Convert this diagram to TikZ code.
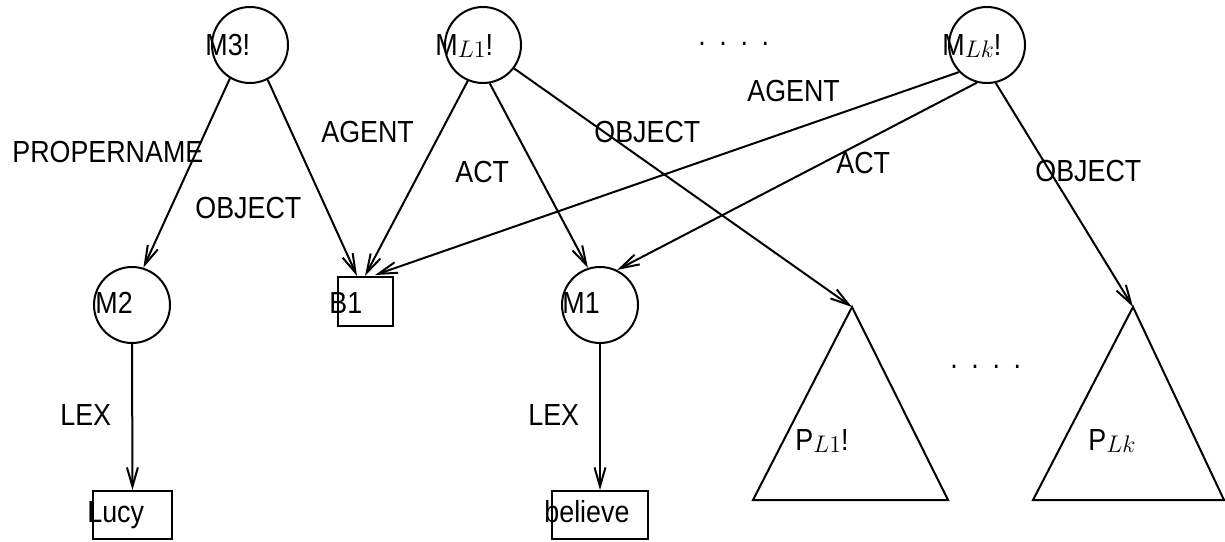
\documentclass[tikz,border=0pt]{standalone}
\usepackage{fontspec}
\setmainfont{Liberation Sans}[FakeStretch=0.88]
\usetikzlibrary{arrows.meta}
% lowered, slightly smaller math subscript used in the node names
\newcommand\lowsub[1]{\raisebox{-1pt}{\fontsize{11.7}{12}\selectfont$#1$}}
% four spaced dots
\newcommand\spaceddots{.\hspace{6.8pt}.\hspace{6.8pt}.\hspace{6.8pt}.}
\begin{document}
\begin{tikzpicture}[x=0.5pt,y=-0.5pt,
  every node/.style={font=\fontsize{15.25}{18}\selectfont},
  lbl/.style={anchor=base west, inner sep=0pt},
  circ/.style={circle, draw, minimum size=38pt, inner sep=0pt, line width=1pt},
  rbox/.style={rectangle, draw, inner sep=0pt, line width=1pt},
  arc/.style={line width=1pt, -{Straight Barb[length=9.5pt,width=5.5pt]}},
  tri/.style={line width=1pt, line join=miter}]
\useasboundingbox (0,0) rectangle (1225,541);

% molecular nodes
\node[circ] (m3) at (250,45) {};
\node[circ] (ml1) at (483,45) {};
\node[circ] (mlk) at (987,45) {};
\node[circ] (m2) at (132,305) {};
\node[circ] (m1) at (600,305) {};

% base nodes
\node[rbox, minimum width=27.5pt, minimum height=24.5pt] (b1) at (365.5,301.5) {};
\node[rbox, minimum width=39.5pt, minimum height=24pt] (lucy) at (132.5,515) {};
\node[rbox, minimum width=48pt, minimum height=24pt] (believe) at (600,515) {};

% node names
\node[lbl] (t-m3) at (205,55) {M3!};
\node[lbl] (t-ml1) at (435,55) {M\lowsub{L1}!};
\node[lbl] (t-mlk) at (942,55) {M\lowsub{Lk}!};
\node[lbl] (t-m2) at (95,313) {M2};
\node[lbl] (t-b1) at (329,313) {B1};
\node[lbl] (t-m1) at (562,313) {M1};
\node[lbl] (t-lucy) at (87,522) {Lucy};
\node[lbl] (t-believe) at (544,522) {believe};

% sub-network triangles
\coordinate (p1top) at (852,307);
\coordinate (p1l) at (753,500);
\coordinate (p1r) at (948,500);
\coordinate (pktop) at (1133,307);
\coordinate (pkl) at (1033,500);
\coordinate (pkr) at (1224,500);
\draw[tri] (p1top) -- (p1r) -- (p1l) -- cycle;
\draw[tri] (pktop) -- (pkr) -- (pkl) -- cycle;
\node[lbl] (t-p1) at (795,450) {P\lowsub{L1}!};
\node[lbl] (t-pk) at (1088,450) {P\lowsub{Lk}};

% ellipses
\node[lbl] (dots-top) at (698,45) {\spaceddots};
\node[lbl] (dots-bot) at (950,368) {\spaceddots};

% arcs
\draw[arc] (m3.239) -- (m2.73);
\draw[arc] (m3.297) -- ([xshift=-4.25pt]b1.north);
\draw[arc] (ml1.247) -- ([xshift=-0.25pt]b1.north);
\draw[arc] (ml1.280) -- (m1.108);
\draw[arc] (ml1.323) -- (p1top);
\draw[arc] (mlk.224) -- ([xshift=4.75pt,yshift=0.5pt]b1.north);
\draw[arc] (mlk.255) -- (m1.64);
\draw[arc] (mlk.283) -- (pktop);
\draw[arc] (m2.south) -- (lucy.north);
\draw[arc] (m1.south) -- (believe.north);

% arc labels
\node[lbl] (l-propername) at (12,162) {PROPERNAME};
\node[lbl] (l-obj1) at (195,218) {OBJECT};
\node[lbl] (l-agent1) at (321,142) {AGENT};
\node[lbl] (l-act1) at (455,182) {ACT};
\node[lbl] (l-obj2) at (594,142) {OBJECT};
\node[lbl] (l-agent2) at (747,101) {AGENT};
\node[lbl] (l-act2) at (836,173) {ACT};
\node[lbl] (l-obj3) at (1035,181) {OBJECT};
\node[lbl] (l-lex1) at (60,425) {LEX};
\node[lbl] (l-lex2) at (528,425) {LEX};
\end{tikzpicture}
\end{document}
